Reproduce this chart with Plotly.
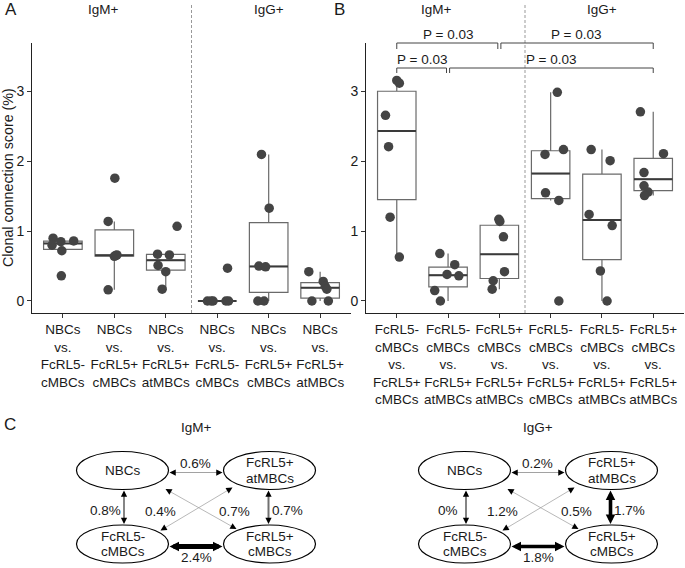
import numpy as np
import plotly.graph_objects as go

# ---------------- data ----------------
tick_labels_A = ["NBCs<br>vs.<br>FcRL5-<br>cMBCs", "NBCs<br>vs.<br>FcRL5+<br>cMBCs",
                 "NBCs<br>vs.<br>FcRL5+<br>atMBCs"] * 2
tick_labels_B = ["FcRL5-<br>cMBCs<br>vs.<br>FcRL5+<br>cMBCs", "FcRL5-<br>cMBCs<br>vs.<br>FcRL5+<br>atMBCs",
                 "FcRL5+<br>cMBCs<br>vs.<br>FcRL5+<br>atMBCs"] * 2
isotypes = ["IgM+", "IgG+"]

scores_A = [
    [0.90, 0.85, 0.86, 0.80, 0.72, 0.36],
    [1.76, 1.14, 0.65, 0.64, 0.66, 0.16],
    [1.07, 0.67, 0.66, 0.51, 0.42, 0.17],
    [0.47, 0.00, 0.00, 0.00, 0.00, 0.00],
    [2.10, 1.33, 0.50, 0.49, 0.00, 0.00],
    [0.42, 0.28, 0.21, 0.17, 0.00, 0.00],
]
scores_B = [
    [3.16, 3.12, 2.66, 2.21, 1.20, 0.63],
    [0.68, 0.52, 0.38, 0.36, 0.15, 0.00],
    [1.17, 1.14, 0.92, 0.42, 0.29, 0.17],
    [2.99, 2.17, 2.10, 1.55, 1.44, 0.00],
    [2.17, 2.01, 1.24, 1.08, 0.43, 0.00],
    [2.71, 2.11, 1.84, 1.65, 1.56, 1.51],
]
# horizontal jitter of the points (category units)
jitter_A = [
    [-0.19, -0.04, 0.21, -0.21, -0.02, -0.03],
    [0.01, -0.12, 0.03, 0.00, 0.05, -0.12],
    [0.22, -0.16, 0.07, -0.15, 0.00, -0.07],
    [0.20, -0.19, -0.08, -0.12, 0.17, 0.22],
    [-0.14, 0.01, -0.19, -0.06, -0.21, -0.09],
    [-0.22, 0.06, 0.10, 0.13, -0.16, 0.16],
]
jitter_B = [
    [0.00, 0.05, -0.22, -0.16, -0.13, 0.05],
    [-0.16, 0.13, -0.02, 0.21, -0.26, -0.15],
    [-0.01, 0.01, 0.08, 0.10, -0.12, -0.14],
    [0.13, 0.25, -0.11, -0.10, 0.16, 0.16],
    [-0.21, 0.16, -0.25, 0.20, -0.03, 0.10],
    [-0.25, 0.20, -0.18, -0.18, -0.10, -0.17],
]
# significance brackets in panel B: (group a, group b, level)
comparisons = [(1, 3, 0), (3, 6, 0), (1, 2, 1), (2, 6, 1)]
p_values = [0.03, 0.03, 0.03, 0.03]

# network panel C
node_labels = [["NBCs"], ["FcRL5+", "atMBCs"], ["FcRL5-", "cMBCs"], ["FcRL5+", "cMBCs"]]
edge_pairs = [(0, 1), (0, 2), (1, 3), (2, 3), (2, 1), (0, 3)]
igm_edge_values = [0.6, 0.8, 0.7, 2.4, 0.4, 0.7]
igg_edge_values = [0.2, 0.0, 1.7, 1.8, 1.2, 0.5]

# ---------------- styles / layout constants ----------------
W, H = 685, 568
FONT = "Liberation Sans, Arial, sans-serif"
TXT = "#1a1a1a"
Y_RANGE = [-0.172, 3.696]

def px_x(p):
    return p / W

def px_y(p):
    return 1 - p / H

fig = go.Figure()

def box_stats(v):
    v = np.sort(np.asarray(v, float))
    q1, med, q3 = np.percentile(v, [25, 50, 75])
    iqr = q3 - q1
    lo = v[v >= q1 - 1.5 * iqr].min()
    hi = v[v <= q3 + 1.5 * iqr].max()
    return q1, med, q3, min(lo, q1), max(hi, q3)

def add_panel(scores, jitter, xa, ya):
    pos = list(range(1, len(scores) + 1))
    stats = [box_stats(s) for s in scores]
    fig.add_trace(go.Box(
        x=pos, q1=[s[0] for s in stats], median=[s[1] for s in stats],
        q3=[s[2] for s in stats], lowerfence=[s[3] for s in stats],
        upperfence=[s[4] for s in stats], width=0.75, whiskerwidth=0,
        line=dict(color="#6a6a6a", width=1.2), fillcolor="rgba(255,255,255,0)",
        boxpoints=False, xaxis=xa, yaxis=ya, showlegend=False, hoverinfo="skip"))
    mx, my = [], []
    for p, s in zip(pos, stats):
        mx += [p - 0.375, p + 0.375, None]
        my += [s[1], s[1], None]
    fig.add_trace(go.Scatter(x=mx, y=my, mode="lines", line=dict(color="#3a3a3a", width=2),
                             xaxis=xa, yaxis=ya, showlegend=False, hoverinfo="skip"))
    px_, py_ = [], []
    for p, s, j in zip(pos, scores, jitter):
        px_ += [p + o for o in j]
        py_ += s
    fig.add_trace(go.Scatter(x=px_, y=py_, mode="markers",
                             marker=dict(color="#444444", size=9.5),
                             xaxis=xa, yaxis=ya, showlegend=False, hoverinfo="skip"))

add_panel(scores_A, jitter_A, "x", "y")
add_panel(scores_B, jitter_B, "x2", "y2")

# dummy trace for the overlay axis of panel C
fig.add_trace(go.Scatter(x=[0], y=[568], mode="markers", marker=dict(opacity=0),
                         xaxis="x3", yaxis="y3", showlegend=False, hoverinfo="skip"))

axis_common = dict(showgrid=False, zeroline=False, showline=True, linecolor="#222",
                   linewidth=1, ticks="outside", ticklen=4, tickcolor="#333", automargin=False,
                   tickangle=0)
xfont = dict(family=FONT, size=13.5, color=TXT)
yfont = dict(family=FONT, size=14, color=TXT)
fig.update_layout(
    width=W, height=H, autosize=False,
    margin=dict(l=0, r=0, t=0, b=0, pad=0),
    paper_bgcolor="white", plot_bgcolor="white",
    font=dict(family=FONT, color=TXT),
    xaxis=dict(domain=[px_x(32), px_x(351)], range=[0.4, 6.6], tickvals=list(range(1, 7)),
               ticktext=tick_labels_A, anchor="y", tickfont=xfont, **axis_common),
    yaxis=dict(domain=[px_y(313), px_y(43)], range=Y_RANGE, tickvals=[0, 1, 2, 3],
               anchor="x", tickfont=yfont, **axis_common),
    xaxis2=dict(domain=[px_x(366), px_x(684)], range=[0.4, 6.6], tickvals=list(range(1, 7)),
                ticktext=tick_labels_B, anchor="y2", tickfont=xfont, **axis_common),
    yaxis2=dict(domain=[px_y(313), px_y(43)], range=Y_RANGE, tickvals=[0, 1, 2, 3],
                anchor="x2", tickfont=yfont, **axis_common),
    xaxis3=dict(domain=[0, 1], range=[0, W], visible=False, anchor="y3", fixedrange=True),
    yaxis3=dict(domain=[0, 153 / H], range=[H, 415], visible=False, anchor="x3", fixedrange=True),
)

shapes = []
ann = []

def text(x, y, s, size=13.5, xref="paper", yref="paper", xanchor="center", angle=0):
    ann.append(dict(x=x, y=y, xref=xref, yref=yref, text=s, showarrow=False,
                    font=dict(family=FONT, size=size, color=TXT), xanchor=xanchor,
                    yanchor="middle", textangle=angle))

# dashed separators
for xr in ["x", "x2"]:
    shapes.append(dict(type="line", xref=xr, yref="paper", x0=3.5, x1=3.5,
                       y0=px_y(313), y1=px_y(4), line=dict(color="#999", width=1, dash="3px,2px")))

# facet titles
for xr in ["x", "x2"]:
    text(1.78, px_y(10), isotypes[0], 13.5, xref=xr)
    text(5.0, px_y(10), isotypes[1], 13.5, xref=xr)

# panel letters
text(px_x(11), px_y(9), "A", 17)
text(px_x(339), px_y(9), "B", 17)
text(px_x(10), px_y(425), "C", 17)

# y-axis title
text(px_x(8), px_y(178), "Clonal connection score (%)", 14.3, angle=-90)

# significance brackets
levels_px = [(43, 49, 35), (68, 73, 60)]
gap = 0.03
for (a, b, lv), p in zip(comparisons, p_values):
    ytop, ytick, ytxt = levels_px[lv]
    xa_ = a + (gap if any(c[1] == a and c[2] == lv for c in comparisons) else 0)
    xb_ = b - (gap if any(c[0] == b and c[2] == lv for c in comparisons) else 0)
    lc = dict(color="#444", width=1)
    shapes.append(dict(type="line", xref="x2", yref="paper", x0=xa_, x1=xb_,
                       y0=px_y(ytop), y1=px_y(ytop), line=lc))
    shapes.append(dict(type="line", xref="x2", yref="paper", x0=xa_, x1=xa_,
                       y0=px_y(ytop), y1=px_y(ytick), line=lc))
    shapes.append(dict(type="line", xref="x2", yref="paper", x0=xb_, x1=xb_,
                       y0=px_y(ytop), y1=px_y(ytick), line=lc))
    text((a + b) / 2, px_y(ytxt), f"P = {p:.2f}", 13.5, xref="x2")

# ---------------- network diagrams ----------------
RX, RY = 46, 19
NODE_DX, NODE_DY = 147, 73.5
node_rel = [(0, 0), (NODE_DX, 0), (0, NODE_DY), (NODE_DX, NODE_DY)]
# port offsets (start, end) relative to node centres, per edge
ports = [
    ((RX + 1, 2), (-RX - 1, 2)),
    ((1.5, RY + 1), (1.5, -RY - 1)),
    ((-1, RY + 1), (-1, -RY - 1)),
    ((RX + 1, 2.5), (-RX - 1, 2.5)),
    ((38, -13.5), (-37, 17)),
    ((43, 18.5), (-33, -15)),
]
# label positions relative to diagram origin
label_rel = [(73, -7.2), (-17, 39.5), (164.5, 39.5), (73.5, 86.8), (38, 41.2), (111.5, 41.2)]
igm_style = [(0.8, "#8a8a8a"), (1.3, "#444"), (2.0, "#707070"), (5.0, "#000"),
             (0.7, "#9a9a9a"), (0.7, "#9a9a9a")]
igg_style = [(0.8, "#8a8a8a"), (1.2, "#333"), (3.6, "#000"), (3.6, "#000"),
             (0.7, "#9a9a9a"), (0.7, "#9a9a9a")]
diagrams = [((122.5, 470.5), isotypes[0], igm_edge_values, igm_style),
            ((464.5, 470.5), isotypes[1], igg_edge_values, igg_style)]

for (ox, oy), title, vals, style in diagrams:
    text(ox + NODE_DX / 2, oy - 43.5, title, 13.5, xref="x3", yref="y3")
    centers = [(ox + dx, oy + dy) for dx, dy in node_rel]
    for (i, j), (ps, pe), v, (w, c), (lx, ly) in zip(edge_pairs, ports, vals, style, label_rel):
        x0, y0 = centers[i][0] + ps[0], centers[i][1] + ps[1]
        x1, y1 = centers[j][0] + pe[0], centers[j][1] + pe[1]
        L = np.hypot(x1 - x0, y1 - y0)
        ux, uy = (x1 - x0) / L, (y1 - y0) / L
        sh = 4
        shapes.append(dict(type="line", xref="x3", yref="y3",
                           x0=x0 + ux * sh, y0=y0 + uy * sh, x1=x1 - ux * sh, y1=y1 - uy * sh,
                           line=dict(color=c, width=w)))
        hs = 1.9 if w >= 3 else 1.25
        for (tx, ty, dx, dy) in [(x1, y1, ux, uy), (x0, y0, -ux, -uy)]:
            ann.append(dict(x=tx, y=ty, ax=tx - dx * 5, ay=ty - dy * 5, xref="x3", yref="y3",
                            axref="x3", ayref="y3", text="", showarrow=True, arrowhead=2,
                            arrowsize=hs, arrowwidth=1, arrowcolor="#000", standoff=0))
        text(ox + lx, oy + ly, f"{v:g}%", 13.5, xref="x3", yref="y3")
    for (cx, cy), lab in zip(centers, node_labels):
        shapes.append(dict(type="circle", xref="x3", yref="y3", x0=cx - RX, x1=cx + RX,
                           y0=cy - RY, y1=cy + RY, line=dict(color="#000", width=1.2),
                           fillcolor="white", layer="above"))
        if len(lab) == 1:
            text(cx, cy, lab[0], 13.5, xref="x3", yref="y3")
        else:
            text(cx, cy - 7.8, lab[0], 13.5, xref="x3", yref="y3")
            text(cx, cy + 7.8, lab[1], 13.5, xref="x3", yref="y3")

fig.update_layout(shapes=shapes, annotations=ann)
fig.write_html("out.html", config={"displayModeBar": False},
               post_script="document.body.style.margin='0';document.body.style.padding='0';")
